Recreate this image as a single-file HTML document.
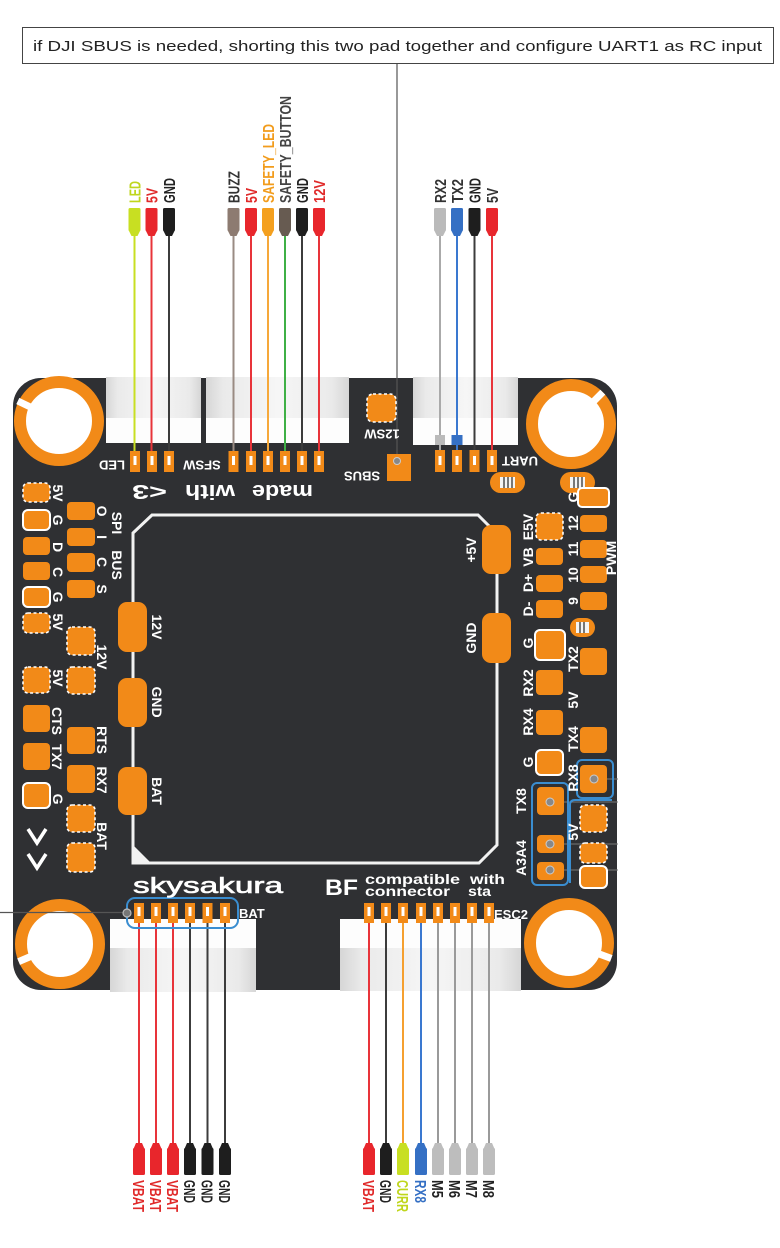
<!DOCTYPE html>
<html><head><meta charset="utf-8"><style>
html,body{margin:0;padding:0;background:#fff;}
svg{display:block;}
text{font-family:"Liberation Sans",sans-serif;}
.l{fill:#fff;font-weight:bold;font-size:14px;}
.s{fill:#fff;font-weight:bold;font-size:13px;}
.p{fill:#f28a18;}
.d{stroke:#fff;stroke-width:1.6;stroke-dasharray:3 2.5;}
.o{stroke:#fff;stroke-width:2;}
.b{fill:none;stroke:#3a8dd0;stroke-width:2;}
</style></head><body>
<svg width="780" height="1248" viewBox="0 0 780 1248" xmlns="http://www.w3.org/2000/svg">
<defs>
<linearGradient id="hg" x1="0" x2="1" y1="0" y2="0">
<stop offset="0" stop-color="#d6d6d6"/><stop offset="0.12" stop-color="#eaeaea"/><stop offset="0.5" stop-color="#f6f6f6"/><stop offset="0.88" stop-color="#eaeaea"/><stop offset="1" stop-color="#d6d6d6"/>
</linearGradient>
</defs>
<rect width="780" height="1248" fill="#fff"/>

<!-- callout -->
<rect x="22.5" y="27.5" width="751" height="36" fill="#fff" stroke="#444" stroke-width="1"/>
<text x="33" y="51" font-size="15" fill="#222" textLength="729" lengthAdjust="spacingAndGlyphs">if DJI SBUS is needed, shorting this two pad together and configure UART1 as RC input</text>
<line x1="397" y1="64" x2="397" y2="378" stroke="#555" stroke-width="1.2"/>

<!-- board -->
<rect x="13" y="378" width="604" height="612" rx="28" fill="#2f3033"/>
<line x1="397" y1="378" x2="397" y2="461" stroke="#555" stroke-width="1.2"/>

<!-- rings -->
<g fill="#fff" stroke="#f28a18" stroke-width="12">
<circle cx="59" cy="421" r="39"/>
<circle cx="571" cy="424" r="39"/>
<circle cx="60" cy="944" r="39"/>
<circle cx="569" cy="943" r="39"/>
</g>
<g stroke="#fff" stroke-width="7">
<line x1="31.1" y1="407.4" x2="17.8" y2="401"/>
<line x1="592.9" y1="402.1" x2="602.8" y2="392.2"/>
<line x1="31.5" y1="956.1" x2="18.6" y2="961.6"/>
<line x1="598.1" y1="953.6" x2="611.3" y2="958.4"/>
</g>

<!-- housings -->
<rect x="106" y="377" width="95" height="41" fill="url(#hg)"/>
<rect x="106" y="418" width="95" height="25" fill="#fdfdfd"/>
<rect x="206" y="377" width="143" height="41" fill="url(#hg)"/>
<rect x="206" y="418" width="143" height="25" fill="#fdfdfd"/>
<rect x="413" y="377" width="105" height="41" fill="url(#hg)"/>
<rect x="413" y="418" width="105" height="27" fill="#fdfdfd"/>
<rect x="110" y="919" width="146" height="29" fill="#fdfdfd"/>
<rect x="110" y="948" width="146" height="44" fill="url(#hg)"/>
<rect x="340" y="919" width="181" height="29" fill="#fdfdfd"/>
<rect x="340" y="948" width="181" height="43" fill="url(#hg)"/>

<!-- top connectors -->
<g transform="translate(134.5,0)"><line x1="0" y1="234" x2="0" y2="453" stroke="#c8df22" stroke-width="2"/><rect x="-6" y="208" width="12" height="23" rx="1.5" fill="#c8df22"/><path d="M-6 230H6L3 236H-3Z" fill="#c8df22"/><text transform="translate(5.8,203) rotate(-90)" font-size="16" font-weight="bold" textLength="22" lengthAdjust="spacingAndGlyphs" fill="#bfd61c">LED</text></g>
<g transform="translate(151.5,0)"><line x1="0" y1="234" x2="0" y2="453" stroke="#e8343a" stroke-width="2"/><rect x="-6" y="208" width="12" height="23" rx="1.5" fill="#e8262c"/><path d="M-6 230H6L3 236H-3Z" fill="#e8262c"/><text transform="translate(5.8,203) rotate(-90)" font-size="16" font-weight="bold" textLength="15" lengthAdjust="spacingAndGlyphs" fill="#e02a2a">5V</text></g>
<g transform="translate(169,0)"><line x1="0" y1="234" x2="0" y2="453" stroke="#3c3c3c" stroke-width="2"/><rect x="-6" y="208" width="12" height="23" rx="1.5" fill="#1e1e1e"/><path d="M-6 230H6L3 236H-3Z" fill="#1e1e1e"/><text transform="translate(5.8,203) rotate(-90)" font-size="16" font-weight="bold" textLength="25" lengthAdjust="spacingAndGlyphs" fill="#222">GND</text></g>

<g transform="translate(233.5,0)"><line x1="0" y1="234" x2="0" y2="453" stroke="#9a8b83" stroke-width="2"/><rect x="-6" y="208" width="12" height="23" rx="1.5" fill="#8d7b71"/><path d="M-6 230H6L3 236H-3Z" fill="#8d7b71"/><text transform="translate(5.8,203) rotate(-90)" font-size="16" font-weight="bold" textLength="32" lengthAdjust="spacingAndGlyphs" fill="#333">BUZZ</text></g>
<g transform="translate(251,0)"><line x1="0" y1="234" x2="0" y2="453" stroke="#e8343a" stroke-width="2"/><rect x="-6" y="208" width="12" height="23" rx="1.5" fill="#e8262c"/><path d="M-6 230H6L3 236H-3Z" fill="#e8262c"/><text transform="translate(5.8,203) rotate(-90)" font-size="16" font-weight="bold" textLength="15" lengthAdjust="spacingAndGlyphs" fill="#e02a2a">5V</text></g>
<g transform="translate(268,0)"><line x1="0" y1="234" x2="0" y2="453" stroke="#f6a83a" stroke-width="2"/><rect x="-6" y="208" width="12" height="23" rx="1.5" fill="#f4a01f"/><path d="M-6 230H6L3 236H-3Z" fill="#f4a01f"/><text transform="translate(5.8,203) rotate(-90)" font-size="16" font-weight="bold" textLength="79" lengthAdjust="spacingAndGlyphs" fill="#f29c1c">SAFETY_LED</text></g>
<g transform="translate(285,0)"><line x1="0" y1="234" x2="0" y2="453" stroke="#3fb046" stroke-width="2"/><rect x="-6" y="208" width="12" height="23" rx="1.5" fill="#675b51"/><path d="M-6 230H6L3 236H-3Z" fill="#675b51"/><text transform="translate(5.8,203) rotate(-90)" font-size="16" font-weight="bold" textLength="107" lengthAdjust="spacingAndGlyphs" fill="#444">SAFETY_BUTTON</text></g>
<g transform="translate(302,0)"><line x1="0" y1="234" x2="0" y2="453" stroke="#3c3c3c" stroke-width="2"/><rect x="-6" y="208" width="12" height="23" rx="1.5" fill="#1e1e1e"/><path d="M-6 230H6L3 236H-3Z" fill="#1e1e1e"/><text transform="translate(5.8,203) rotate(-90)" font-size="16" font-weight="bold" textLength="25" lengthAdjust="spacingAndGlyphs" fill="#222">GND</text></g>
<g transform="translate(319,0)"><line x1="0" y1="234" x2="0" y2="453" stroke="#e8343a" stroke-width="2"/><rect x="-6" y="208" width="12" height="23" rx="1.5" fill="#e8262c"/><path d="M-6 230H6L3 236H-3Z" fill="#e8262c"/><text transform="translate(5.8,203) rotate(-90)" font-size="16" font-weight="bold" textLength="23" lengthAdjust="spacingAndGlyphs" fill="#e02a2a">12V</text></g>

<g transform="translate(440,0)"><line x1="0" y1="234" x2="0" y2="453" stroke="#aaaaaa" stroke-width="2"/><rect x="-6" y="208" width="12" height="23" rx="1.5" fill="#bababa"/><path d="M-6 230H6L3 236H-3Z" fill="#bababa"/><text transform="translate(5.8,203) rotate(-90)" font-size="16" font-weight="bold" textLength="24" lengthAdjust="spacingAndGlyphs" fill="#333">RX2</text><rect x="-5" y="435" width="10" height="10" fill="#bababa"/></g>
<g transform="translate(457,0)"><line x1="0" y1="234" x2="0" y2="453" stroke="#3a78d0" stroke-width="2"/><rect x="-6" y="208" width="12" height="23" rx="1.5" fill="#3570c4"/><path d="M-6 230H6L3 236H-3Z" fill="#3570c4"/><text transform="translate(5.8,203) rotate(-90)" font-size="16" font-weight="bold" textLength="24" lengthAdjust="spacingAndGlyphs" fill="#333">TX2</text><rect x="-5.5" y="435" width="11" height="10" fill="#3570c4"/></g>
<g transform="translate(474.5,0)"><line x1="0" y1="234" x2="0" y2="453" stroke="#3c3c3c" stroke-width="2"/><rect x="-6" y="208" width="12" height="23" rx="1.5" fill="#1e1e1e"/><path d="M-6 230H6L3 236H-3Z" fill="#1e1e1e"/><text transform="translate(5.8,203) rotate(-90)" font-size="16" font-weight="bold" textLength="25" lengthAdjust="spacingAndGlyphs" fill="#222">GND</text></g>
<g transform="translate(492,0)"><line x1="0" y1="234" x2="0" y2="453" stroke="#e8343a" stroke-width="2"/><rect x="-6" y="208" width="12" height="23" rx="1.5" fill="#e8262c"/><path d="M-6 230H6L3 236H-3Z" fill="#e8262c"/><text transform="translate(5.8,203) rotate(-90)" font-size="16" font-weight="bold" textLength="15" lengthAdjust="spacingAndGlyphs" fill="#333">5V</text></g>

<!-- bottom connectors -->
<g transform="translate(139,0)"><line x1="0" y1="921" x2="0" y2="1145" stroke="#e8343a" stroke-width="2"/><path d="M-3 1143H3L6 1150H-6Z" fill="#e8262c"/><rect x="-6" y="1148" width="12" height="27" rx="1.5" fill="#e8262c"/><text transform="translate(-5.8,1180) rotate(90)" font-size="16" font-weight="bold" textLength="32" lengthAdjust="spacingAndGlyphs" fill="#e02a2a">VBAT</text></g>
<g transform="translate(156,0)"><line x1="0" y1="921" x2="0" y2="1145" stroke="#e8343a" stroke-width="2"/><path d="M-3 1143H3L6 1150H-6Z" fill="#e8262c"/><rect x="-6" y="1148" width="12" height="27" rx="1.5" fill="#e8262c"/><text transform="translate(-5.8,1180) rotate(90)" font-size="16" font-weight="bold" textLength="32" lengthAdjust="spacingAndGlyphs" fill="#e02a2a">VBAT</text></g>
<g transform="translate(173,0)"><line x1="0" y1="921" x2="0" y2="1145" stroke="#e8343a" stroke-width="2"/><path d="M-3 1143H3L6 1150H-6Z" fill="#e8262c"/><rect x="-6" y="1148" width="12" height="27" rx="1.5" fill="#e8262c"/><text transform="translate(-5.8,1180) rotate(90)" font-size="16" font-weight="bold" textLength="32" lengthAdjust="spacingAndGlyphs" fill="#e02a2a">VBAT</text></g>
<g transform="translate(190,0)"><line x1="0" y1="921" x2="0" y2="1145" stroke="#3c3c3c" stroke-width="2"/><path d="M-3 1143H3L6 1150H-6Z" fill="#1e1e1e"/><rect x="-6" y="1148" width="12" height="27" rx="1.5" fill="#1e1e1e"/><text transform="translate(-5.8,1180) rotate(90)" font-size="16" font-weight="bold" textLength="23" lengthAdjust="spacingAndGlyphs" fill="#222">GND</text></g>
<g transform="translate(207.5,0)"><line x1="0" y1="921" x2="0" y2="1145" stroke="#3c3c3c" stroke-width="2"/><path d="M-3 1143H3L6 1150H-6Z" fill="#1e1e1e"/><rect x="-6" y="1148" width="12" height="27" rx="1.5" fill="#1e1e1e"/><text transform="translate(-5.8,1180) rotate(90)" font-size="16" font-weight="bold" textLength="23" lengthAdjust="spacingAndGlyphs" fill="#222">GND</text></g>
<g transform="translate(225,0)"><line x1="0" y1="921" x2="0" y2="1145" stroke="#3c3c3c" stroke-width="2"/><path d="M-3 1143H3L6 1150H-6Z" fill="#1e1e1e"/><rect x="-6" y="1148" width="12" height="27" rx="1.5" fill="#1e1e1e"/><text transform="translate(-5.8,1180) rotate(90)" font-size="16" font-weight="bold" textLength="23" lengthAdjust="spacingAndGlyphs" fill="#222">GND</text></g>

<g transform="translate(369,0)"><line x1="0" y1="921" x2="0" y2="1145" stroke="#e8343a" stroke-width="2"/><path d="M-3 1143H3L6 1150H-6Z" fill="#e8262c"/><rect x="-6" y="1148" width="12" height="27" rx="1.5" fill="#e8262c"/><text transform="translate(-5.8,1180) rotate(90)" font-size="16" font-weight="bold" textLength="32" lengthAdjust="spacingAndGlyphs" fill="#e02a2a">VBAT</text></g>
<g transform="translate(386,0)"><line x1="0" y1="921" x2="0" y2="1145" stroke="#3c3c3c" stroke-width="2"/><path d="M-3 1143H3L6 1150H-6Z" fill="#1e1e1e"/><rect x="-6" y="1148" width="12" height="27" rx="1.5" fill="#1e1e1e"/><text transform="translate(-5.8,1180) rotate(90)" font-size="16" font-weight="bold" textLength="23" lengthAdjust="spacingAndGlyphs" fill="#222">GND</text></g>
<g transform="translate(403,0)"><line x1="0" y1="921" x2="0" y2="1145" stroke="#f5a030" stroke-width="2"/><path d="M-3 1143H3L6 1150H-6Z" fill="#c8df22"/><rect x="-6" y="1148" width="12" height="27" rx="1.5" fill="#c8df22"/><text transform="translate(-5.8,1180) rotate(90)" font-size="16" font-weight="bold" textLength="32" lengthAdjust="spacingAndGlyphs" fill="#bfd61c">CURR</text></g>
<g transform="translate(421,0)"><line x1="0" y1="921" x2="0" y2="1145" stroke="#3a78d0" stroke-width="2"/><path d="M-3 1143H3L6 1150H-6Z" fill="#3570c4"/><rect x="-6" y="1148" width="12" height="27" rx="1.5" fill="#3570c4"/><text transform="translate(-5.8,1180) rotate(90)" font-size="16" font-weight="bold" textLength="23" lengthAdjust="spacingAndGlyphs" fill="#3570c4">RX8</text></g>
<g transform="translate(438,0)"><line x1="0" y1="921" x2="0" y2="1145" stroke="#9a9a9a" stroke-width="2"/><path d="M-3 1143H3L6 1150H-6Z" fill="#bdbdbd"/><rect x="-6" y="1148" width="12" height="27" rx="1.5" fill="#bdbdbd"/><text transform="translate(-5.8,1180) rotate(90)" font-size="16" font-weight="bold" textLength="18" lengthAdjust="spacingAndGlyphs" fill="#222">M5</text></g>
<g transform="translate(455,0)"><line x1="0" y1="921" x2="0" y2="1145" stroke="#9a9a9a" stroke-width="2"/><path d="M-3 1143H3L6 1150H-6Z" fill="#bdbdbd"/><rect x="-6" y="1148" width="12" height="27" rx="1.5" fill="#bdbdbd"/><text transform="translate(-5.8,1180) rotate(90)" font-size="16" font-weight="bold" textLength="18" lengthAdjust="spacingAndGlyphs" fill="#222">M6</text></g>
<g transform="translate(472,0)"><line x1="0" y1="921" x2="0" y2="1145" stroke="#9a9a9a" stroke-width="2"/><path d="M-3 1143H3L6 1150H-6Z" fill="#bdbdbd"/><rect x="-6" y="1148" width="12" height="27" rx="1.5" fill="#bdbdbd"/><text transform="translate(-5.8,1180) rotate(90)" font-size="16" font-weight="bold" textLength="18" lengthAdjust="spacingAndGlyphs" fill="#222">M7</text></g>
<g transform="translate(489,0)"><line x1="0" y1="921" x2="0" y2="1145" stroke="#9a9a9a" stroke-width="2"/><path d="M-3 1143H3L6 1150H-6Z" fill="#bdbdbd"/><rect x="-6" y="1148" width="12" height="27" rx="1.5" fill="#bdbdbd"/><text transform="translate(-5.8,1180) rotate(90)" font-size="16" font-weight="bold" textLength="18" lengthAdjust="spacingAndGlyphs" fill="#222">M8</text></g>

<!-- top small pads -->
<g class="p">
<rect x="130" y="451" width="10" height="21"/><rect x="147" y="451" width="10" height="21"/><rect x="164" y="451" width="10" height="21"/>
<rect x="228.5" y="451" width="10" height="21"/><rect x="246" y="451" width="10" height="21"/><rect x="263" y="451" width="10" height="21"/><rect x="280" y="451" width="10" height="21"/><rect x="297" y="451" width="10" height="21"/><rect x="314" y="451" width="10" height="21"/>
<rect x="435" y="450" width="10" height="22"/><rect x="452" y="450" width="10" height="22"/><rect x="469.5" y="450" width="10" height="22"/><rect x="487" y="450" width="10" height="22"/>
</g>
<g fill="#fff">
<rect x="133.5" y="456" width="3" height="9"/><rect x="150.5" y="456" width="3" height="9"/><rect x="167.5" y="456" width="3" height="9"/>
<rect x="232" y="456" width="3" height="9"/><rect x="249.5" y="456" width="3" height="9"/><rect x="266.5" y="456" width="3" height="9"/><rect x="283.5" y="456" width="3" height="9"/><rect x="300.5" y="456" width="3" height="9"/><rect x="317.5" y="456" width="3" height="9"/>
<rect x="438.5" y="456" width="3" height="9"/><rect x="455.5" y="456" width="3" height="9"/><rect x="473" y="456" width="3" height="9"/><rect x="490.5" y="456" width="3" height="9"/>
</g>

<!-- bottom small pads -->
<g class="p">
<rect x="134" y="903" width="10" height="20"/><rect x="151" y="903" width="10" height="20"/><rect x="168" y="903" width="10" height="20"/><rect x="185" y="903" width="10" height="20"/><rect x="202.5" y="903" width="10" height="20"/><rect x="220" y="903" width="10" height="20"/>
<rect x="364" y="903" width="10" height="20"/><rect x="381" y="903" width="10" height="20"/><rect x="398" y="903" width="10" height="20"/><rect x="416" y="903" width="10" height="20"/><rect x="433" y="903" width="10" height="20"/><rect x="450" y="903" width="10" height="20"/><rect x="467" y="903" width="10" height="20"/><rect x="484" y="903" width="10" height="20"/>
</g>
<g fill="#fff">
<rect x="137.5" y="907" width="3" height="9"/><rect x="154.5" y="907" width="3" height="9"/><rect x="171.5" y="907" width="3" height="9"/><rect x="188.5" y="907" width="3" height="9"/><rect x="206" y="907" width="3" height="9"/><rect x="223.5" y="907" width="3" height="9"/>
<rect x="367.5" y="907" width="3" height="9"/><rect x="384.5" y="907" width="3" height="9"/><rect x="401.5" y="907" width="3" height="9"/><rect x="419.5" y="907" width="3" height="9"/><rect x="436.5" y="907" width="3" height="9"/><rect x="453.5" y="907" width="3" height="9"/><rect x="470.5" y="907" width="3" height="9"/><rect x="487.5" y="907" width="3" height="9"/>
</g>
<rect x="127" y="898" width="111" height="30" rx="8" class="b"/>
<line x1="0" y1="912.5" x2="123" y2="912.5" stroke="#555" stroke-width="1.2"/>
<circle cx="127" cy="913" r="4" fill="#777" stroke="#bbb" stroke-width="1.2"/>
<text x="239" y="918" class="s">BAT</text>
<text x="494" y="919" class="s" font-size="12.5">ESC2</text>

<!-- 180 rotated labels -->
<text transform="translate(112,460.5) rotate(180)" class="s" text-anchor="middle">LED</text>
<text transform="translate(202,460.5) rotate(180)" class="s" text-anchor="middle">SFSW</text>
<text transform="translate(520,456.5) rotate(180)" class="s" text-anchor="middle">UART</text>
<text transform="translate(382,429.5) rotate(180)" class="s" text-anchor="middle">12SW</text>
<text transform="translate(362,471.5) rotate(180)" class="s" text-anchor="middle">SBUS</text>
<g fill="#fff" font-weight="bold" font-size="20" text-anchor="middle">
<text transform="translate(282.5,485) rotate(180)" textLength="61" lengthAdjust="spacingAndGlyphs">made</text>
<text transform="translate(210,485) rotate(180)" textLength="50" lengthAdjust="spacingAndGlyphs">with</text>
<text transform="translate(149.5,485) rotate(180)" textLength="35" lengthAdjust="spacingAndGlyphs">&lt;3</text>
</g>

<!-- 12SW / SBUS pads -->
<rect x="367" y="394" width="29" height="28" rx="6" class="p d"/>
<rect x="387" y="454" width="24" height="27" class="p"/>
<circle cx="397" cy="461" r="3.5" fill="#888" stroke="#ccc" stroke-width="1"/>

<!-- jumpers -->
<rect x="490" y="472" width="35" height="21" rx="10.5" class="p"/>
<rect x="500" y="477" width="15" height="11" fill="#f4f4f4"/><rect x="503" y="477" width="2" height="11" fill="#777"/><rect x="507" y="477" width="2" height="11" fill="#777"/><rect x="511" y="477" width="2" height="11" fill="#777"/>
<rect x="560" y="472" width="35" height="21" rx="10.5" class="p"/>
<rect x="570" y="477" width="15" height="11" fill="#f4f4f4"/><rect x="573" y="477" width="2" height="11" fill="#777"/><rect x="577" y="477" width="2" height="11" fill="#777"/><rect x="581" y="477" width="2" height="11" fill="#777"/>
<rect x="570" y="618" width="25" height="19" rx="9.5" class="p"/>
<rect x="576" y="622" width="13" height="11" fill="#f4f4f4"/><rect x="579" y="622" width="2" height="11" fill="#777"/><rect x="583" y="622" width="2" height="11" fill="#777"/>

<!-- inner outline -->
<path d="M133 533 L152 515 L478 515 L497 534 L497 845 L479 863 L133 863 Z" fill="none" stroke="#f2f2f2" stroke-width="3"/>
<path d="M133 845 L133 863 L151 863 Z" fill="#f2f2f2"/>
<g class="p">
<rect x="118" y="602" width="29" height="50" rx="9"/>
<rect x="118" y="678" width="29" height="49" rx="9"/>
<rect x="118" y="767" width="29" height="48" rx="9"/>
<rect x="482" y="525" width="29" height="49" rx="9"/>
<rect x="482" y="613" width="29" height="50" rx="9"/>
</g>
<text transform="translate(152,627) rotate(90)" class="l" text-anchor="middle">12V</text>
<text transform="translate(152,702) rotate(90)" class="l" text-anchor="middle">GND</text>
<text transform="translate(152,791) rotate(90)" class="l" text-anchor="middle">BAT</text>
<text transform="translate(476,550) rotate(-90)" class="l" text-anchor="middle">+5V</text>
<text transform="translate(476,638) rotate(-90)" class="l" text-anchor="middle">GND</text>

<!-- left pads -->
<rect x="23" y="483" width="27" height="19" rx="5" class="p d"/>
<rect x="23" y="510" width="27" height="20" rx="5" class="p o"/>
<rect x="23" y="537" width="27" height="18" rx="4" class="p"/>
<rect x="23" y="562" width="27" height="18" rx="4" class="p"/>
<rect x="23" y="587" width="27" height="20" rx="5" class="p o"/>
<rect x="23" y="613" width="27" height="20" rx="5" class="p d"/>
<rect x="23" y="667" width="27" height="26" rx="5" class="p d"/>
<rect x="23" y="705" width="27" height="27" rx="4" class="p"/>
<rect x="23" y="743" width="27" height="27" rx="4" class="p"/>
<rect x="23" y="783" width="27" height="25" rx="5" class="p o"/>
<rect x="67" y="502" width="28" height="18" rx="4" class="p"/>
<rect x="67" y="528" width="28" height="18" rx="4" class="p"/>
<rect x="67" y="553" width="28" height="19" rx="4" class="p"/>
<rect x="67" y="580" width="28" height="18" rx="4" class="p"/>
<rect x="67" y="627" width="28" height="28" rx="5" class="p d"/>
<rect x="67" y="667" width="28" height="27" rx="5" class="p d"/>
<rect x="67" y="727" width="28" height="27" rx="4" class="p"/>
<rect x="67" y="765" width="28" height="28" rx="4" class="p"/>
<rect x="67" y="805" width="28" height="27" rx="5" class="p d"/>
<rect x="67" y="843" width="28" height="29" rx="5" class="p d"/>
<g class="l" text-anchor="middle">
<text transform="translate(53,493) rotate(90)">5V</text>
<text transform="translate(53,520) rotate(90)">G</text>
<text transform="translate(53,547) rotate(90)">D</text>
<text transform="translate(53,572) rotate(90)">C</text>
<text transform="translate(53,597) rotate(90)">G</text>
<text transform="translate(53,622) rotate(90)">5V</text>
<text transform="translate(53,678) rotate(90)">5V</text>
<text transform="translate(52,721) rotate(90)">CTS</text>
<text transform="translate(52,757) rotate(90)">TX7</text>
<text transform="translate(53,799) rotate(90)">G</text>
<text transform="translate(97,511) rotate(90)">O</text>
<text transform="translate(97,537) rotate(90)">I</text>
<text transform="translate(97,562) rotate(90)">C</text>
<text transform="translate(97,589) rotate(90)">S</text>
<text transform="translate(97,657) rotate(90)">12V</text>
<text transform="translate(97,740) rotate(90)">RTS</text>
<text transform="translate(97,780) rotate(90)">RX7</text>
<text transform="translate(97,836) rotate(90)">BAT</text>
<text transform="translate(112,523) rotate(90)">SPI</text>
<text transform="translate(112,565) rotate(90)">BUS</text>
</g>
<polyline points="28,829 37,843 46,829" fill="none" stroke="#fff" stroke-width="3.5"/>
<polyline points="28,854 37,868 46,854" fill="none" stroke="#fff" stroke-width="3.5"/>

<!-- right pads -->
<g stroke="#777" stroke-width="1">
<line x1="594" y1="779" x2="618" y2="779"/>
<line x1="550" y1="802" x2="618" y2="802"/>
<line x1="550" y1="844" x2="618" y2="844"/>
<line x1="550" y1="870" x2="618" y2="870"/>
</g>
<rect x="536" y="513" width="27" height="27" rx="5" class="p d"/>
<rect x="536" y="548" width="27" height="17" rx="4" class="p"/>
<rect x="536" y="575" width="27" height="17" rx="4" class="p"/>
<rect x="536" y="600" width="27" height="18" rx="4" class="p"/>
<rect x="535" y="630" width="30" height="30" rx="5" class="p o"/>
<rect x="536" y="670" width="27" height="25" rx="4" class="p"/>
<rect x="536" y="710" width="27" height="25" rx="4" class="p"/>
<rect x="536" y="750" width="27" height="25" rx="5" class="p o"/>
<rect x="537" y="787" width="27" height="28" rx="4" class="p"/>
<rect x="537" y="835" width="27" height="18" rx="4" class="p"/>
<rect x="537" y="862" width="27" height="18" rx="4" class="p"/>
<rect x="578" y="488" width="31" height="19" rx="4" class="p o"/>
<rect x="580" y="515" width="27" height="17" rx="4" class="p"/>
<rect x="580" y="540" width="27" height="18" rx="4" class="p"/>
<rect x="580" y="566" width="27" height="17" rx="4" class="p"/>
<rect x="580" y="592" width="27" height="18" rx="4" class="p"/>
<rect x="580" y="648" width="27" height="27" rx="4" class="p"/>
<rect x="580" y="727" width="27" height="26" rx="4" class="p"/>
<rect x="580" y="765" width="27" height="28" rx="4" class="p"/>
<rect x="580" y="805" width="27" height="27" rx="5" class="p d"/>
<rect x="580" y="843" width="27" height="20" rx="5" class="p d"/>
<rect x="580" y="866" width="27" height="22" rx="5" class="p o"/>
<g fill="#888" stroke="#ccc" stroke-width="1">
<circle cx="594" cy="779" r="4"/>
<circle cx="550" cy="802" r="4"/>
<circle cx="550" cy="844" r="4"/>
<circle cx="550" cy="870" r="4"/>
</g>
<rect x="532" y="783" width="36" height="102" rx="5" class="b"/>
<rect x="577" y="760" width="36" height="38" rx="5" class="b"/>
<path d="M612 800 H575 Q570 800 570 805 V883" class="b"/>
<g class="l" text-anchor="middle">
<text transform="translate(533,527) rotate(-90)">E5V</text>
<text transform="translate(533,557) rotate(-90)">VB</text>
<text transform="translate(533,583) rotate(-90)">D+</text>
<text transform="translate(533,609) rotate(-90)">D-</text>
<text transform="translate(533,643) rotate(-90)">G</text>
<text transform="translate(533,683) rotate(-90)">RX2</text>
<text transform="translate(533,722) rotate(-90)">RX4</text>
<text transform="translate(533,762) rotate(-90)">G</text>
<text transform="translate(526,801) rotate(-90)">TX8</text>
<text transform="translate(526,858) rotate(-90)">A3A4</text>
<text transform="translate(578,497) rotate(-90)">G</text>
<text transform="translate(578,523) rotate(-90)">12</text>
<text transform="translate(578,549) rotate(-90)">11</text>
<text transform="translate(578,575) rotate(-90)">10</text>
<text transform="translate(578,601) rotate(-90)">9</text>
<text transform="translate(578,659) rotate(-90)">TX2</text>
<text transform="translate(578,700) rotate(-90)">5V</text>
<text transform="translate(578,739) rotate(-90)">TX4</text>
<text transform="translate(578,778) rotate(-90)">RX8</text>
<text transform="translate(578,832) rotate(-90)">5V</text>
<text transform="translate(616,558) rotate(-90)">PWM</text>
</g>

<!-- logos -->
<text x="133" y="893" fill="#fff" font-size="22" stroke="#fff" stroke-width="0.6" textLength="150" lengthAdjust="spacingAndGlyphs">skysakura</text>
<text x="325" y="895" fill="#fff" font-size="22" font-weight="bold" textLength="33" lengthAdjust="spacingAndGlyphs">BF</text>
<g fill="#fff" font-weight="bold" font-size="13.5">
<text x="365" y="884" textLength="95" lengthAdjust="spacingAndGlyphs">compatible</text>
<text x="470" y="884" textLength="35" lengthAdjust="spacingAndGlyphs">with</text>
<text x="365" y="896" textLength="85" lengthAdjust="spacingAndGlyphs">connector</text>
<text x="468" y="896" textLength="23" lengthAdjust="spacingAndGlyphs">sta</text>
</g>
</svg>
</body></html>
